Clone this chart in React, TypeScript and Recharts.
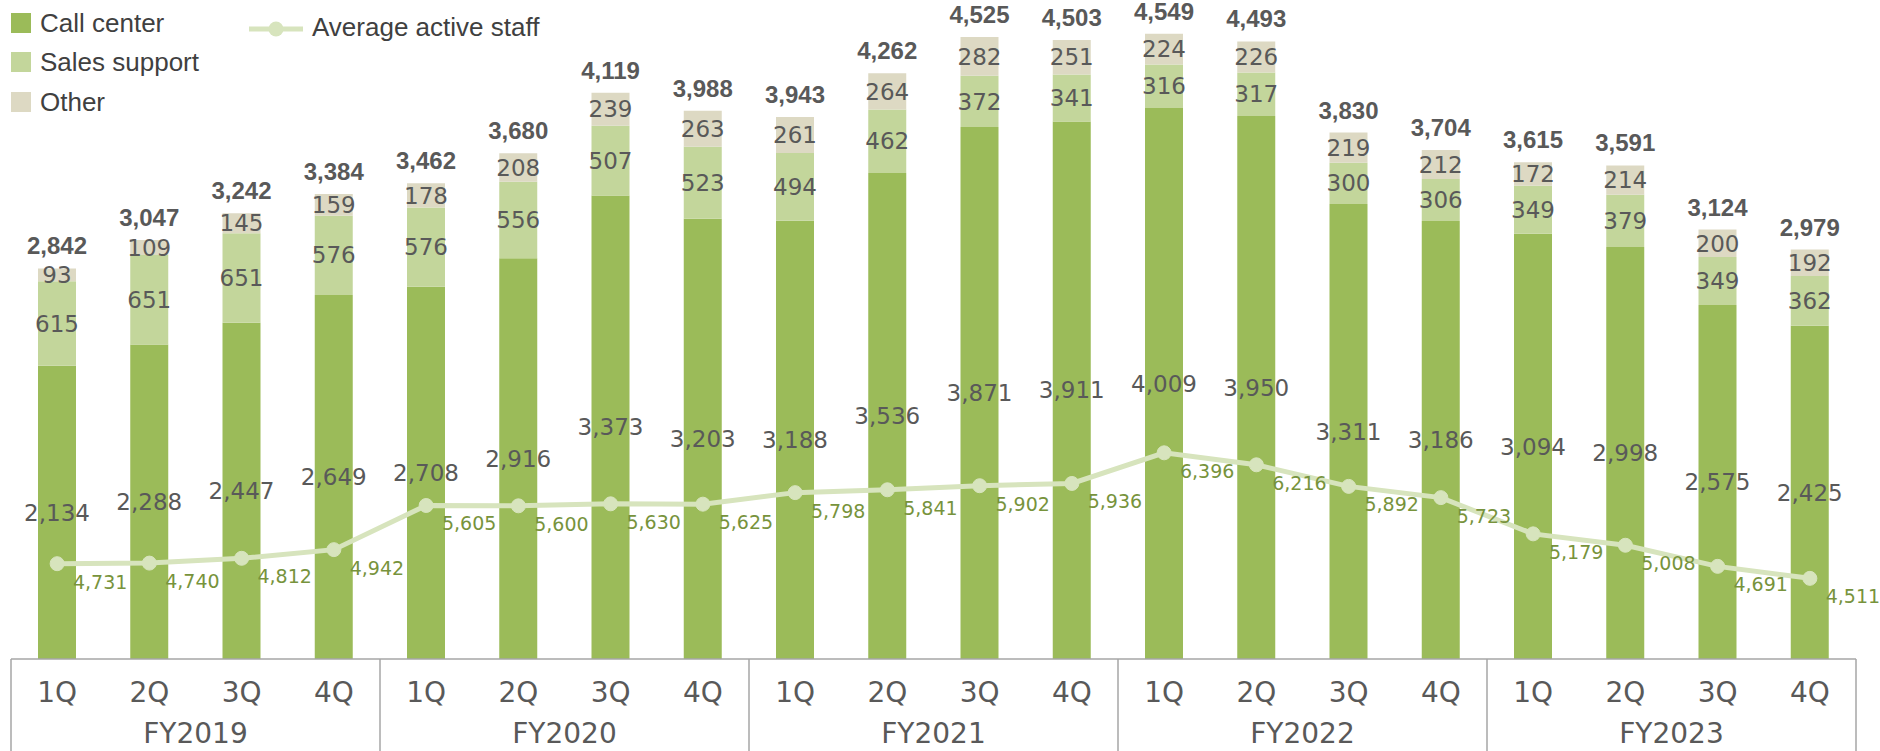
import {
  ComposedChart,
  Bar,
  Line,
  XAxis,
  YAxis,
  Legend,
  LabelList,
} from "recharts";

const quarters = [
  "1Q", "2Q", "3Q", "4Q",
  "1Q", "2Q", "3Q", "4Q",
  "1Q", "2Q", "3Q", "4Q",
  "1Q", "2Q", "3Q", "4Q",
  "1Q", "2Q", "3Q", "4Q",
];
const fiscalYears = ["FY2019", "FY2020", "FY2021", "FY2022", "FY2023"];

const callCenter = [2134, 2288, 2447, 2649, 2708, 2916, 3373, 3203, 3188, 3536, 3871, 3911, 4009, 3950, 3311, 3186, 3094, 2998, 2575, 2425];
const salesSupport = [615, 651, 651, 576, 576, 556, 507, 523, 494, 462, 372, 341, 316, 317, 300, 306, 349, 379, 349, 362];
const other = [93, 109, 145, 159, 178, 208, 239, 263, 261, 264, 282, 251, 224, 226, 219, 212, 172, 214, 200, 192];
const totals = [2842, 3047, 3242, 3384, 3462, 3680, 4119, 3988, 3943, 4262, 4525, 4503, 4549, 4493, 3830, 3704, 3615, 3591, 3124, 2979];
const activeStaff = [4731, 4740, 4812, 4942, 5605, 5600, 5630, 5625, 5798, 5841, 5902, 5936, 6396, 6216, 5892, 5723, 5179, 5008, 4691, 4511];

const W = 1880;
const H = 751;
const MARGIN = { top: 13, right: 24, bottom: 0, left: 11 };
const AXIS_H = 92;
const BAND = (W - MARGIN.left - MARGIN.right) / quarters.length;

const C = {
  call: "#9BBB59",
  sales: "#C3D69B",
  other: "#DDD9C3",
  line: "#D7E4BD",
  lineText: "#77933C",
  text: "#595959",
  legendText: "#404040",
  border: "#A6A6A6",
};

const NUM_FONT = "'DejaVu Sans', Verdana, sans-serif";
const SANS_FONT = "'Liberation Sans', Arial, sans-serif";

const data = quarters.map((q, i) => ({
  key: `${fiscalYears[Math.floor(i / 4)]}-${q}`,
  q,
  fy: fiscalYears[Math.floor(i / 4)],
  callCenter: callCenter[i],
  salesSupport: salesSupport[i],
  other: other[i],
  total: totals[i],
  staff: activeStaff[i],
}));

const fmt = (v: any) => Number(v).toLocaleString("en-US");

const segLabel = {
  position: "center" as const,
  fill: C.text,
  fontSize: 23,
  fontFamily: NUM_FONT,
  formatter: fmt,
};

function QuarterTick(props: any) {
  const { x, y, payload } = props;
  const i = data.findIndex((d) => d.key === payload.value);
  const row = data[i];
  const left = x - BAND / 2;
  return (
    <g>
      <text
        x={x}
        y={y + 33}
        textAnchor="middle"
        dominantBaseline="central"
        fontSize={28}
        fontFamily={NUM_FONT}
        fill={C.text}
      >
        {row.q}
      </text>
      {i % 4 === 0 && (
        <>
          <line x1={left} x2={left} y1={y} y2={H} stroke={C.border} strokeWidth={1.5} />
          <text
            x={left + BAND * 2}
            y={y + 74}
            textAnchor="middle"
            dominantBaseline="central"
            fontSize={28}
            fontFamily={NUM_FONT}
            fill={C.text}
          >
            {row.fy}
          </text>
        </>
      )}
      {i === data.length - 1 && (
        <line x1={x + BAND / 2} x2={x + BAND / 2} y1={y} y2={H} stroke={C.border} strokeWidth={1.5} />
      )}
    </g>
  );
}

function TotalLabel(props: any) {
  const { x, y, width, value } = props;
  return (
    <text
      x={x + width / 2}
      y={y - 14}
      textAnchor="middle"
      fontSize={24}
      fontWeight="bold"
      fontFamily={SANS_FONT}
      fill={C.text}
    >
      {fmt(value)}
    </text>
  );
}

function StaffLabel(props: any) {
  const x = props.x ?? props.viewBox?.x;
  const y = props.y ?? props.viewBox?.y;
  return (
    <text
      x={x + 43}
      y={y + 18}
      textAnchor="middle"
      dominantBaseline="central"
      fontSize={19}
      fontFamily={NUM_FONT}
      fill={C.lineText}
    >
      {fmt(props.value)}
    </text>
  );
}

function ChartLegend() {
  const textStyle = {
    position: "absolute" as const,
    height: 32,
    lineHeight: "32px",
    fontSize: 26,
    fontFamily: SANS_FONT,
    color: C.legendText,
    whiteSpace: "nowrap" as const,
  };
  const item = (color: string, label: string, cy: number) => (
    <div key={label}>
      <div
        style={{ position: "absolute", left: 11, top: cy - 10, width: 20, height: 20, background: color }}
      />
      <div style={{ ...textStyle, left: 40, top: cy - 16 }}>{label}</div>
    </div>
  );
  return (
    <div style={{ position: "relative", width: 600, height: 125 }}>
      {item(C.call, "Call center", 23)}
      {item(C.sales, "Sales support", 62)}
      {item(C.other, "Other", 102)}
      <svg style={{ position: "absolute", left: 249, top: 19 }} width={56} height={20}>
        <line x1={0} x2={54} y1={10} y2={10} stroke={C.line} strokeWidth={5} />
        <circle cx={27} cy={10} r={7.5} fill={C.line} />
      </svg>
      <div style={{ ...textStyle, left: 312, top: 11 }}>Average active staff</div>
    </div>
  );
}

export default function App() {
  return (
    <div style={{ position: "absolute", left: 0, top: 0, width: W, height: H, background: "#fff", overflow: "hidden" }}>
      <ComposedChart width={W} height={H} data={data} margin={MARGIN}>
        <XAxis
          dataKey="key"
          height={AXIS_H}
          interval={0}
          tickLine={false}
          tickSize={0}
          tickMargin={0}
          axisLine={{ stroke: C.border, strokeWidth: 1.5 }}
          tick={<QuarterTick />}
        />
        <YAxis yAxisId="left" hide domain={[0, 4700]} />
        <YAxis yAxisId="right" orientation="right" hide domain={[3300, 13000]} />
        <Legend
          layout="vertical"
          align="center"
          verticalAlign="middle"
          wrapperStyle={{ position: "absolute", left: 0, top: 0, width: 600, height: 125 }}
          content={() => <ChartLegend />}
        />
        <Bar yAxisId="left" dataKey="callCenter" stackId="s" fill={C.call} barSize={38} isAnimationActive={false}>
          <LabelList dataKey="callCenter" {...segLabel} />
        </Bar>
        <Bar yAxisId="left" dataKey="salesSupport" stackId="s" fill={C.sales} barSize={38} isAnimationActive={false}>
          <LabelList dataKey="salesSupport" {...segLabel} />
        </Bar>
        <Bar yAxisId="left" dataKey="other" stackId="s" fill={C.other} barSize={38} isAnimationActive={false}>
          <LabelList dataKey="other" {...segLabel} />
          <LabelList dataKey="total" content={<TotalLabel />} />
        </Bar>
        <Line
          yAxisId="right"
          dataKey="staff"
          stroke={C.line}
          strokeWidth={5}
          dot={{ r: 7, fill: C.line, stroke: C.line, strokeWidth: 1 }}
          activeDot={false}
          isAnimationActive={false}
        >
          <LabelList dataKey="staff" content={<StaffLabel />} />
        </Line>
      </ComposedChart>
    </div>
  );
}
